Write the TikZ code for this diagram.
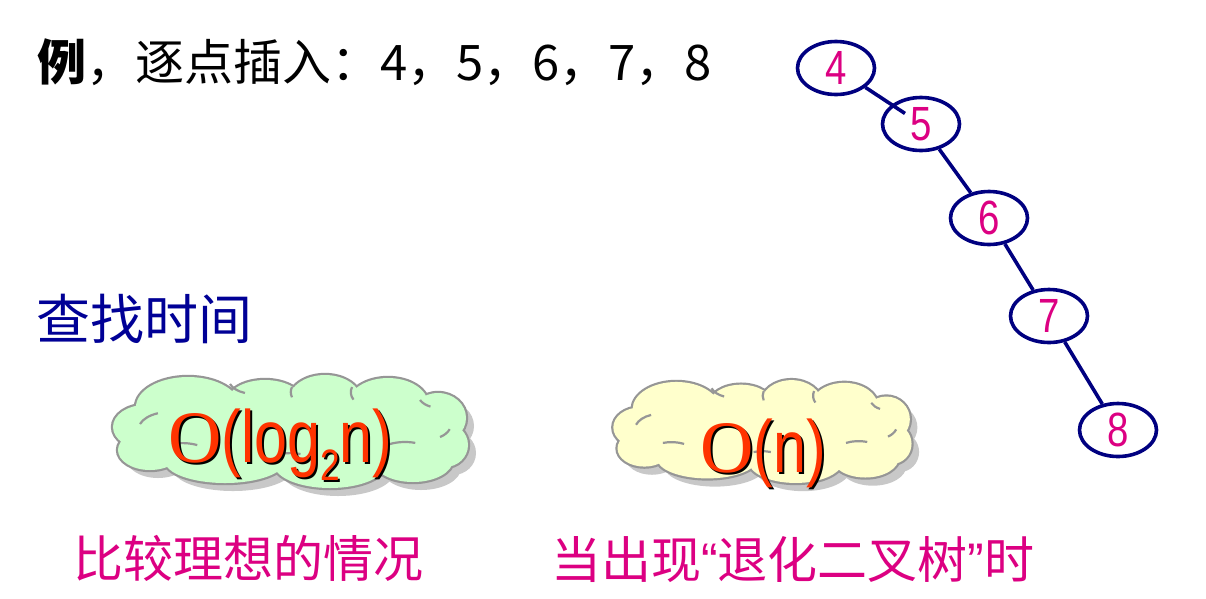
\documentclass[tikz,border=0pt]{standalone}
\usepackage{fontspec}
\usetikzlibrary{shapes.geometric}
\newfontfamily\cjk{Noto Sans CJK SC}
\newfontfamily\lsans{Liberation Sans}
\newfontfamily\lserif{Liberation Serif}
\definecolor{navyc}{RGB}{0,0,128}
\definecolor{bluec}{RGB}{0,0,150}
\definecolor{magc}{RGB}{220,0,130}
\definecolor{redc}{RGB}{255,51,0}
\definecolor{greenc}{RGB}{204,255,204}
\definecolor{yellowc}{RGB}{255,255,204}
\definecolor{shadc}{RGB}{200,200,200}
\definecolor{edgec}{RGB}{150,150,150}
\newcommand\logtxt{{\lserif O}\scalebox{0.8}[1]{\lsans (log\raisebox{-0.25em}{\fontsize{44}{44}\selectfont 2}n)}}
\newcommand\ntxt{{\lserif O}\scalebox{0.8}[1]{\lsans (n)}}
\newcommand\cloudpath{%
 (-102,-25) ellipse [x radius=52, y radius=30]
 (-25,-30) ellipse [x radius=38, y radius=22]
 (35,-32) ellipse [x radius=36, y radius=25]
 (98,-28) ellipse [x radius=40, y radius=26]
 (148,-14) ellipse [x radius=28, y radius=25]
 (155,13) ellipse [x radius=23, y radius=22]
 (123,28) ellipse [x radius=40, y radius=22]
 (40,32) ellipse [x radius=56, y radius=24]
 (-65,29) ellipse [x radius=60, y radius=22]
 (-140,18) ellipse [x radius=32, y radius=20]
 (-145,-5) ellipse [x radius=32, y radius=22]
 (0,0) ellipse [x radius=140, y radius=36]}
\newcommand\cloudarcs{%
 (-150,-8) arc[start angle=200, end angle=250, x radius=30, y radius=18]
 (-60,-48) arc[start angle=160, end angle=110, x radius=25, y radius=15]
 (2,-45) arc[start angle=200, end angle=160, x radius=20, y radius=15]
 (62,-45) arc[start angle=200, end angle=150, x radius=20, y radius=15]
 (130,-32) arc[start angle=150, end angle=110, x radius=20, y radius=15]
 (150,5) arc[start angle=60, end angle=20, x radius=22, y radius=15]
 (100,12) arc[start angle=240, end angle=290, x radius=30, y radius=15]
 (-10,22) arc[start angle=250, end angle=290, x radius=30, y radius=15]
 (-118,12) arc[start angle=250, end angle=300, x radius=30, y radius=15]}
\begin{document}
\begin{tikzpicture}[x=1pt,y=-1pt,
  tn/.style={ellipse, draw=navyc, line width=3.6pt, minimum width=77pt, minimum height=53pt, inner sep=0pt, text=magc, font=\lsans\fontsize{48}{48}\selectfont},
  tedge/.style={draw=navyc, line width=3.6pt},
  bigt/.style={anchor=base west, inner sep=0pt, font=\fontsize{74}{74}\selectfont},
  cn/.style={anchor=base west, inner sep=0pt},
  cloudline/.style={draw=edgec, line width=4.4pt},
  innerarc/.style={draw=edgec, line width=2.2pt}]
\useasboundingbox (0,0) rectangle (1206,598);
\fill[white] (0,0) rectangle (1206,598);
% title
\node[cn, font=\cjk\fontsize{49}{49}\selectfont] (title) at (37,80) {\textbf{例}，逐点插入：4，5，6，7，8};
\node[cn, text=bluec, font=\cjk\fontsize{54}{54}\selectfont] (find) at (36,339) {查找时间};
\node[cn, text=magc, font=\cjk\fontsize{50}{50}\selectfont] (ideal) at (73,577) {比较理想的情况};
\node[cn, text=magc, font=\cjk\fontsize{50}{50}\selectfont] (degen) at (551,578) {当出现{\lsans “}退化二叉树{\lsans ”}时};
% tree
\node[tn] (n4) at (836,68) {\scalebox{0.8}[1]{4}};
\node[tn] (n5) at (921,124) {\scalebox{0.8}[1]{5}};
\node[tn] (n6) at (989,218) {\scalebox{0.8}[1]{6}};
\node[tn] (n7) at (1049,316) {\scalebox{0.8}[1]{7}};
\node[tn] (n8) at (1118,430) {\scalebox{0.8}[1]{8}};
\draw[tedge, shorten >=-16pt] (n4) -- (n5);
\draw[tedge] (n5) -- (n6);
\draw[tedge] (n6) -- (n7);
\draw[tedge] (n7) -- (n8);
% cloud 1
\begin{scope}[shift={(290,432)}]
  \fill[shadc] [shift={(8,8)}] \cloudpath;
  \path[cloudline] \cloudpath;
  \fill[greenc] \cloudpath;
  \path[innerarc] \cloudarcs;
\end{scope}
% cloud 2
\begin{scope}[shift={(762,432)}, xscale=0.84, yscale=0.91]
  \fill[shadc] [shift={(9,9)}] \cloudpath;
  \path[cloudline] \cloudpath;
  \fill[yellowc] \cloudpath;
  \path[innerarc] \cloudarcs;
\end{scope}
\node[bigt, text=black] (t1s) at (170,464) {\logtxt};
\node[bigt, text=redc] (t1) at (168,462) {\logtxt};
\node[bigt, text=black] (t2s) at (702,474) {\ntxt};
\node[bigt, text=redc] (t2) at (700,472) {\ntxt};
\end{tikzpicture}
\end{document}
